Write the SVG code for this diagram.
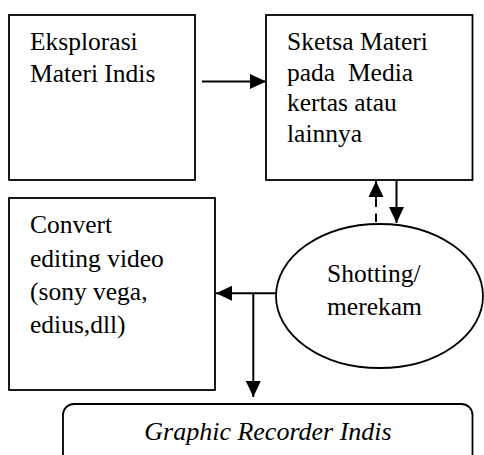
<svg xmlns="http://www.w3.org/2000/svg" width="484" height="455" viewBox="0 0 484 455">
  <style>
    .box { fill: #ffffff; stroke: #000000; stroke-width: 1.8; }
    .lbl { font-family: "Liberation Serif", "Times New Roman", serif; font-size: 25.5px; fill: #000000; white-space: pre; }
    .ital { font-style: italic; font-size: 26px; }
    .conn { fill: none; stroke: #000000; stroke-width: 2; }
    .dash { stroke-dasharray: 8.5 6.5; }
  </style>
  <defs>
    <marker id="arrow" viewBox="0 0 16 16" refX="16" refY="8" markerWidth="16" markerHeight="16" markerUnits="userSpaceOnUse" orient="auto">
      <path d="M0,0.5 L16,8 L0,15.5 Z" fill="#000000"/>
    </marker>
  </defs>

  <rect width="484" height="455" fill="#ffffff"/>

  <g id="eksplorasi">
    <rect class="box" x="9" y="15" width="186" height="165"/>
    <text class="lbl" x="30" y="50">Eksplorasi</text>
    <text class="lbl" x="30" y="81.5">Materi Indis</text>
  </g>

  <g id="sketsa">
    <rect class="box" x="266" y="15" width="206.5" height="165"/>
    <text class="lbl" x="287" y="50">Sketsa Materi</text>
    <text class="lbl" x="287" y="81">pada  Media</text>
    <text class="lbl" x="287" y="111">kertas atau</text>
    <text class="lbl" x="287" y="141.5">lainnya</text>
  </g>

  <g id="convert">
    <rect class="box" x="9" y="198" width="206" height="192"/>
    <text class="lbl" x="30" y="233">Convert</text>
    <text class="lbl" x="30" y="267">editing video</text>
    <text class="lbl" x="30" y="300">(sony vega,</text>
    <text class="lbl" x="30" y="332.5">edius,dll)</text>
  </g>

  <g id="shotting">
    <ellipse class="box" cx="379.5" cy="296" rx="103.5" ry="72"/>
    <text class="lbl" x="327" y="282">Shotting/</text>
    <text class="lbl" x="327" y="315">merekam</text>
  </g>

  <g id="graphic-recorder">
    <rect class="box" x="63" y="404" width="409.5" height="70" rx="11" ry="11"/>
    <text class="lbl ital" x="268" y="440" text-anchor="middle">Graphic Recorder Indis</text>
  </g>

  <g id="connectors">
    <line class="conn" x1="202" y1="81.5" x2="266" y2="81.5" marker-end="url(#arrow)"/>
    <line class="conn" x1="396.5" y1="180" x2="396.5" y2="223" marker-end="url(#arrow)"/>
    <line class="conn dash" x1="376" y1="222" x2="376" y2="198"/>
    <line class="conn" x1="376" y1="198" x2="376" y2="181" marker-end="url(#arrow)"/>
    <line class="conn" x1="276" y1="293.3" x2="216" y2="293.3" marker-end="url(#arrow)"/>
    <line class="conn" x1="253.3" y1="293.3" x2="253.3" y2="397" marker-end="url(#arrow)"/>
  </g>
</svg>
